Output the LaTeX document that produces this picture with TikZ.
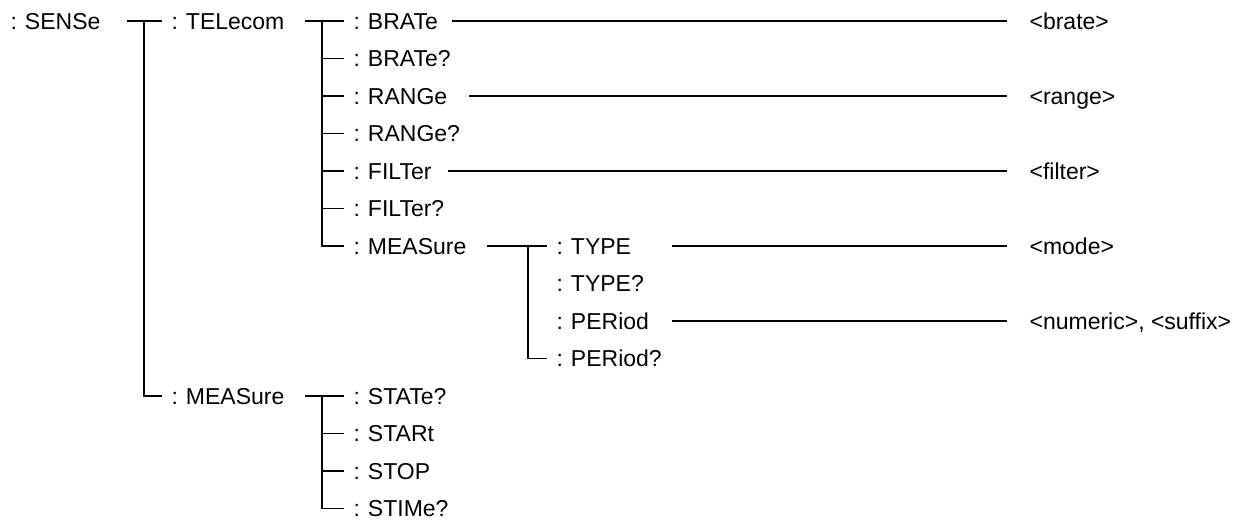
\documentclass[tikz,border=0pt]{standalone}
\usepackage{fontspec}
\setmainfont{Liberation Sans}
\newcommand{\scpi}[1]{:\hspace{4pt}#1}
\begin{document}
\begin{tikzpicture}[x=0.5pt, y=-0.5pt, line width=0.6pt,
  cmd/.style={anchor=west, inner xsep=4.5pt, inner ysep=0pt, text height=8.2pt, text depth=0pt, font=\fontsize{11.5}{13}\selectfont}]
\useasboundingbox (0,0) rectangle (1250,527);

\node[cmd] (sense) at (1,21) {\scpi{SENSe}};
\node[cmd] (tel) at (162,21) {\scpi{TELecom}};
\node[cmd] (measb) at (162,396) {\scpi{MEASure}};
\node[cmd] (brate) at (344,21) {\scpi{BRATe}};
\node[cmd] (brateq) at (344,58.5) {\scpi{BRATe?}};
\node[cmd] (range) at (344,96) {\scpi{RANGe}};
\node[cmd] (rangeq) at (344,133.5) {\scpi{RANGe?}};
\node[cmd] (filter) at (344,171) {\scpi{FILTer}};
\node[cmd] (filterq) at (344,208.5) {\scpi{FILTer?}};
\node[cmd] (measa) at (344,246) {\scpi{MEASure}};
\node[cmd] (type) at (547,246) {\scpi{TYPE}};
\node[cmd] (typeq) at (547,283.5) {\scpi{TYPE?}};
\node[cmd] (period) at (547,321) {\scpi{PERiod}};
\node[cmd] (periodq) at (547,358.5) {\scpi{PERiod?}};
\node[cmd] (stateq) at (344,396) {\scpi{STATe?}};
\node[cmd] (start) at (344,433.5) {\scpi{STARt}};
\node[cmd] (stop) at (344,471) {\scpi{STOP}};
\node[cmd] (stimeq) at (344,508.5) {\scpi{STIMe?}};

\node[cmd] (vbrate) at (1020,21) {<brate>};
\node[cmd] (vrange) at (1020,96) {<range>};
\node[cmd] (vfilter) at (1020,171) {<filter>};
\node[cmd] (vmode) at (1020,246) {<mode>};
\node[cmd] (vnum) at (1020,321) {<numeric>, <suffix>};

\coordinate (j0) at (144,21);
\coordinate (j1) at (322,21);
\coordinate (j2) at (528,246);
\coordinate (j3) at (322,396);
\coordinate (c) at (672,0);

\draw[shorten <=8.5pt] (sense) -- (tel);
\draw (j0) |- (measb);
\draw[shorten <=5.5pt] (tel) -- (brate);
\draw (j1 |- brateq) -- (brateq);
\draw (j1 |- range) -- (range);
\draw (j1 |- rangeq) -- (rangeq);
\draw (j1 |- filter) -- (filter);
\draw (j1 |- filterq) -- (filterq);
\draw (j1) |- (measa);
\draw[shorten <=5.5pt] (measa) -- (type);
\draw (j2) |- (periodq);
\draw[shorten <=5.5pt] (measb) -- (stateq);
\draw (j3 |- start) -- (start);
\draw (j3 |- stop) -- (stop);
\draw (j3) |- (stimeq);

\draw[shorten <=2.5pt, shorten >=6.5pt] (brate) -- (vbrate);
\draw[shorten <=6pt, shorten >=6.5pt] (range) -- (vrange);
\draw[shorten <=3.5pt, shorten >=6.5pt] (filter) -- (vfilter);
\draw[shorten >=6.5pt] (c |- type) -- (vmode);
\draw[shorten >=6.5pt] (c |- period) -- (vnum);
\end{tikzpicture}
\end{document}
